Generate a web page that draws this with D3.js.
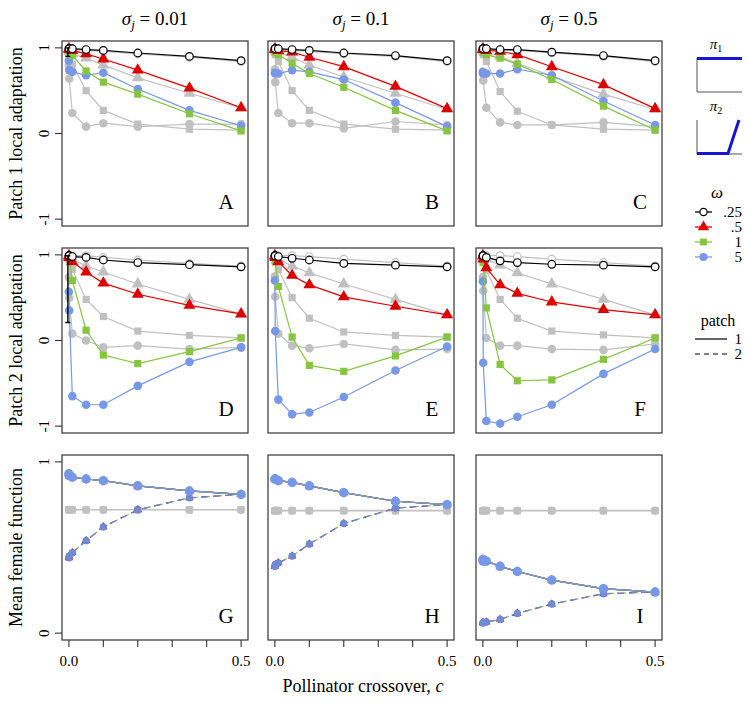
<!DOCTYPE html>
<html><head><meta charset="utf-8">
<script src="https://cdn.jsdelivr.net/npm/d3@7"></script>
<style>body{margin:0;background:#fff} svg{display:block}</style>
</head><body><svg id="chart" width="745" height="703" font-family="'Liberation Serif', 'Times New Roman', Tinos, 'DejaVu Serif', serif"></svg>
<script>
const cVals = [0, 0.001, 0.01, 0.05, 0.1, 0.2, 0.35, 0.5];
const sigmaLabels = ["0.01", "0.1", "0.5"];
const omegaLabels = [".25", ".5", "1", "5"];
const patchLabels = ["1", "2"];
const rowTitles = ["Patch 1 local adaptation", "Patch 2 local adaptation", "Mean female function"];
const panelLetters = [["A","B","C"],["D","E","F"],["G","H","I"]];
const yTicksAdapt = [-1, 0, 1];
const yTicksMff = [0, 1];
const xTicks = [0, 0.1, 0.2, 0.3, 0.4, 0.5];
const xTickLabeled = [0, 0.5];

// Row 1: patch 1 local adaptation, one array per sigma column
const p1_w025 = [[0.99,0.99,0.99,0.98,0.97,0.94,0.90,0.85],[0.99,0.99,0.99,0.98,0.97,0.94,0.91,0.85],[0.99,0.99,0.99,0.98,0.98,0.95,0.91,0.85]];
const p1_w05  = [[0.99,0.98,0.97,0.93,0.87,0.74,0.53,0.30],[0.99,0.98,0.97,0.95,0.89,0.78,0.55,0.29],[0.99,0.98,0.97,0.96,0.92,0.78,0.57,0.29]];
const p1_w1   = [[0.97,0.95,0.91,0.73,0.60,0.46,0.23,0.03],[0.97,0.95,0.92,0.82,0.70,0.54,0.27,0.03],[0.97,0.95,0.92,0.88,0.81,0.63,0.32,0.04]];
const p1_w5   = [[0.85,0.74,0.72,0.68,0.71,0.52,0.27,0.09],[0.71,0.70,0.70,0.74,0.72,0.63,0.36,0.08],[0.72,0.70,0.70,0.70,0.75,0.68,0.38,0.10]];
const p1_g025 = [[0.99,0.99,0.98,0.97,0.96,0.93,0.89,0.84],[0.99,0.99,0.98,0.97,0.96,0.93,0.90,0.84],[0.99,0.99,0.98,0.97,0.97,0.94,0.90,0.84]];
const p1_g05  = [[0.98,0.96,0.93,0.88,0.80,0.65,0.47,0.30],[0.98,0.97,0.95,0.89,0.80,0.66,0.47,0.28],[0.98,0.97,0.95,0.90,0.82,0.67,0.46,0.28]];
const p1_g1   = [[0.95,0.88,0.81,0.50,0.27,0.11,0.05,0.04],[0.96,0.92,0.84,0.50,0.27,0.11,0.05,0.04],[0.96,0.92,0.84,0.49,0.26,0.10,0.05,0.04]];
const p1_g5   = [[0.80,0.64,0.24,0.08,0.12,0.08,0.11,0.11],[0.75,0.60,0.24,0.12,0.12,0.06,0.14,0.10],[0.70,0.62,0.30,0.13,0.10,0.10,0.13,0.08]];

// Row 2: patch 2 local adaptation
const p2_w025 = [[0.99,0.99,0.98,0.97,0.94,0.91,0.885,0.86],[0.99,0.99,0.98,0.96,0.94,0.90,0.88,0.86],[0.99,0.99,0.97,0.93,0.91,0.89,0.88,0.86]];
const p2_w05  = [[0.99,0.97,0.92,0.80,0.67,0.54,0.41,0.31],[0.99,0.97,0.92,0.76,0.65,0.51,0.40,0.30],[0.99,0.95,0.85,0.65,0.55,0.45,0.36,0.30]];
const p2_w1   = [[0.98,0.95,0.70,0.12,-0.17,-0.27,-0.13,0.03],[0.97,0.93,0.63,0.04,-0.29,-0.36,-0.18,0.04],[0.97,0.91,0.38,-0.28,-0.47,-0.46,-0.22,0.03]];
const p2_w5   = [[0.57,0.35,-0.65,-0.75,-0.75,-0.53,-0.25,-0.08],[0.70,0.11,-0.69,-0.86,-0.84,-0.66,-0.35,-0.07],[0.69,-0.26,-0.94,-0.97,-0.89,-0.75,-0.39,-0.10]];
const p2_g025 = [[0.99,0.99,0.99,0.99,0.97,0.94,0.90,0.87],[0.99,0.99,0.99,0.99,0.98,0.95,0.91,0.87],[0.99,0.99,0.99,0.99,0.98,0.95,0.91,0.87]];
const p2_g05  = [[0.99,0.98,0.95,0.87,0.80,0.66,0.48,0.31],[0.99,0.98,0.95,0.87,0.79,0.66,0.48,0.30],[0.99,0.98,0.95,0.88,0.79,0.66,0.48,0.30]];
const p2_g1   = [[0.97,0.92,0.83,0.48,0.28,0.11,0.06,0.03],[0.97,0.92,0.83,0.50,0.26,0.10,0.06,0.04],[0.97,0.92,0.82,0.48,0.26,0.11,0.065,0.03]];
const p2_g5   = [[0.74,0.50,0.08,0.00,-0.08,-0.06,-0.10,-0.08],[0.75,0.51,0.08,-0.06,-0.09,-0.04,-0.11,-0.10],[0.74,0.58,0.03,-0.06,-0.06,-0.10,-0.11,-0.04]];

// Row 3: mean female function (all omega curves nearly coincide)
const mff_p1   = [[0.93,0.92,0.91,0.90,0.89,0.86,0.83,0.81],[0.90,0.90,0.89,0.88,0.86,0.82,0.77,0.75],[0.43,0.42,0.42,0.39,0.36,0.31,0.26,0.24]];
const mff_p2   = [[0.44,0.45,0.47,0.54,0.62,0.72,0.79,0.81],[0.39,0.40,0.41,0.45,0.52,0.64,0.73,0.75],[0.06,0.06,0.065,0.08,0.115,0.17,0.23,0.24]];
const mff_gray = [[0.72,0.72,0.72,0.72,0.72,0.72,0.72,0.72],[0.715,0.715,0.715,0.715,0.715,0.715,0.715,0.715],[0.715,0.715,0.715,0.715,0.715,0.715,0.715,0.715]];

// interval bars at c = 0
const errRow = [0, 1];
const errLo = [0.90, 0.21];
const errHi = [1.00, 0.99];

const COL = {black:"#000000", red:"#dd0000", green:"#86c540", blue:"#7798e6", gray:"#c0c0c0"};
const svg = d3.select("#chart");
const lefts = [62, 268, 476], tops = [41, 248, 455], W = 186, H = 185;

function xs(col){ return d3.scaleLinear().domain([-0.02, 0.52]).range([lefts[col], lefts[col] + W]); }
function ys(row){ return row < 2 ? d3.scaleLinear().domain([-1.08, 1.08]).range([tops[row] + H, tops[row]])
                                 : d3.scaleLinear().domain([-0.04, 1.04]).range([tops[row] + H, tops[row]]); }

function drawMarker(g, shape, cx, cy, color, scale){
  scale = scale || 1;
  if (shape === "open") {
    g.append("circle").attr("cx", cx).attr("cy", cy).attr("r", 3.8*scale).attr("fill", "#fff").attr("stroke", color).attr("stroke-width", 1.2);
  } else if (shape === "tri") {
    g.append("path").attr("d", d3.symbol(d3.symbolTriangle, 62*scale*scale)()).attr("transform", `translate(${cx},${cy})`).attr("fill", color);
  } else if (shape === "sq") {
    const s = 7.2*scale;
    g.append("rect").attr("x", cx - s/2).attr("y", cy - s/2).attr("width", s).attr("height", s).attr("fill", color);
  } else {
    g.append("circle").attr("cx", cx).attr("cy", cy).attr("r", 4.3*scale).attr("fill", color);
  }
}

function drawSeries(g, x, y, vals, color, shape, dash, mscale, lw, noMarkers){
  const line = d3.line().x((d,i) => x(cVals[i])).y(d => y(d));
  const p = g.append("path").attr("d", line(vals)).attr("fill", "none").attr("stroke", color).attr("stroke-width", lw || 1.2);
  if (dash) p.attr("stroke-dasharray", dash.arr).attr("stroke-dashoffset", dash.off);
  if (!noMarkers) vals.forEach((v, i) => drawMarker(g, shape, x(cVals[i]), y(v), color, mscale));
}

const rowSeries = [
  {gray:[p1_g025,p1_g05,p1_g1,p1_g5], col:[p1_w025,p1_w05,p1_w1,p1_w5]},
  {gray:[p2_g025,p2_g05,p2_g1,p2_g5], col:[p2_w025,p2_w05,p2_w1,p2_w5]}
];
const shapes = ["open","tri","sq","circ"];
const colors = [COL.black, COL.red, COL.green, COL.blue];

for (let row = 0; row < 3; row++) {
  const y = ys(row);
  for (let col = 0; col < 3; col++) {
    const x = xs(col);
    const g = svg.append("g");
    if (row < 2) {
      const rs = rowSeries[row];
      [0,1,2,3].forEach(k => drawSeries(g, x, y, rs.gray[k][col], COL.gray, shapes[k]));
      [3,2,1,0].forEach(k => drawSeries(g, x, y, rs.col[k][col], colors[k], shapes[k]));
      errRow.forEach((r, i) => {
        if (r === row && col === 0) {
          const ex = x(0) - 1;
          g.append("path").attr("d", `M${ex},${y(errLo[i])}V${y(errHi[i])}M${ex-2.5},${y(errLo[i])}H${ex+2.5}M${ex-2.5},${y(errHi[i])}H${ex+2.5}`)
            .attr("stroke", "#000").attr("stroke-width", 1.4).attr("fill", "none");
        }
      });
    } else {
      drawSeries(g, x, y, mff_gray[col], COL.gray, "sq", null, 1.0, 1.6);
      mff_gray[col].forEach((v, i) => drawMarker(g, "circ", x(cVals[i]), y(v), COL.gray, 0.95));
      // patch 2 (dashed) curves: red/green/black short dashes underneath, blue dashes on top
      [2,1,0].forEach((k, j) => drawSeries(g, x, y, mff_p2[col], colors[k], shapes[k], {arr:"3,9", off: j*3}, 0.7, 1.1));
      drawSeries(g, x, y, mff_p2[col], "#6f8bd6", "circ", {arr:"7,5", off: 6}, 0.85, 1.3);
      // patch 1 (solid) curves
      [0,1,2].forEach(k => drawSeries(g, x, y, mff_p1[col], colors[k], shapes[k], null, 0.75, 1.2));
      drawSeries(g, x, y, mff_p1[col], COL.blue, "circ", null, 1.1, 1.2);
    }
    // box
    svg.append("rect").attr("x", lefts[col]).attr("y", tops[row]).attr("width", W).attr("height", H)
      .attr("fill", "none").attr("stroke", "#333").attr("stroke-width", 1.2);
    // panel letter
    svg.append("text").attr("x", lefts[col] + W - 22).attr("y", tops[row] + H - 17)
      .attr("text-anchor", "middle").attr("font-size", 21).text(panelLetters[row][col]);
    // y axis on first column
    if (col === 0) {
      const ticks = row < 2 ? yTicksAdapt : yTicksMff;
      ticks.forEach(t => {
        svg.append("line").attr("x1", lefts[0] - 7).attr("x2", lefts[0]).attr("y1", y(t)).attr("y2", y(t)).attr("stroke", "#333").attr("stroke-width", 1.1);
        svg.append("text").attr("transform", `translate(${lefts[0] - 13},${y(t)}) rotate(-90)`)
          .attr("text-anchor", "middle").attr("font-size", 15).text(t < 0 ? "-" + Math.abs(t) : String(t));
      });
      svg.append("text").attr("transform", `translate(22,${tops[row] + H/2}) rotate(-90)`)
        .attr("text-anchor", "middle").attr("font-size", 18).text(rowTitles[row]);
    }
    // x axis on bottom row
    if (row === 2) {
      xTicks.forEach(t => {
        svg.append("line").attr("x1", x(t)).attr("x2", x(t)).attr("y1", tops[2] + H).attr("y2", tops[2] + H + 7).attr("stroke", "#333").attr("stroke-width", 1.1);
      });
      xTickLabeled.forEach(t => {
        svg.append("text").attr("x", x(t)).attr("y", tops[2] + H + 26).attr("text-anchor", "middle").attr("font-size", 15).text(t.toFixed(1));
      });
    }
  }
}

// column titles
sigmaLabels.forEach((s, col) => {
  const t = svg.append("text").attr("x", lefts[col] + W/2).attr("y", 25).attr("text-anchor", "middle").attr("font-size", 19);
  t.append("tspan").attr("font-style", "italic").text("σ");
  t.append("tspan").attr("font-style", "italic").attr("font-size", 13).attr("dy", 4).text("j");
  t.append("tspan").attr("dy", -4).text(" = " + s);
});

// x label
const xl = svg.append("text").attr("x", 363).attr("y", 692).attr("text-anchor", "middle").attr("font-size", 18);
xl.append("tspan").text("Pollinator crossover, ");
xl.append("tspan").attr("font-style", "italic").text("c");

// pi legend
const piLabels = ["1", "2"];
const piTops = [58, 120];
piLabels.forEach((lab, i) => {
  const t = svg.append("text").attr("x", 716).attr("y", piTops[i] - 9).attr("text-anchor", "middle").attr("font-size", 15);
  t.append("tspan").attr("font-style", "italic").text("π");
  t.append("tspan").attr("font-size", 10).attr("dy", 3).text(lab);
  svg.append("path").attr("d", `M697,${piTops[i]}V${piTops[i] + 34}H742`).attr("fill", "none").attr("stroke", "#555").attr("stroke-width", 1);
});
svg.append("path").attr("d", `M697,${piTops[0] + 0.5}H742`).attr("stroke", "#1616d0").attr("stroke-width", 3).attr("fill", "none");
svg.append("path").attr("d", `M697,${piTops[1] + 33.5}H728L739,${piTops[1]}`).attr("stroke", "#1616d0").attr("stroke-width", 3).attr("fill", "none");

// omega legend
svg.append("text").attr("x", 717).attr("y", 198).attr("text-anchor", "middle").attr("font-size", 17).attr("font-style", "italic").text("ω");
omegaLabels.forEach((lab, k) => {
  const yy = 212 + k*15;
  svg.append("line").attr("x1", 695).attr("x2", 712).attr("y1", yy).attr("y2", yy).attr("stroke", colors[k]).attr("stroke-width", 1.3);
  drawMarker(svg, shapes[k], 703.5, yy, colors[k], 0.95);
  svg.append("text").attr("x", 742).attr("y", yy + 5).attr("text-anchor", "end").attr("font-size", 15).text(lab);
});

// patch legend
svg.append("text").attr("x", 718).attr("y", 326).attr("text-anchor", "middle").attr("font-size", 16).text("patch");
patchLabels.forEach((lab, k) => {
  const yy = 339 + k*15;
  const l = svg.append("line").attr("x1", 695).attr("x2", 727).attr("y1", yy).attr("y2", yy).attr("stroke", "#000").attr("stroke-width", 1.2);
  if (k === 1) l.attr("stroke-dasharray", "5,4");
  svg.append("text").attr("x", 742).attr("y", yy + 5).attr("text-anchor", "end").attr("font-size", 15).text(lab);
});
</script></body></html>
